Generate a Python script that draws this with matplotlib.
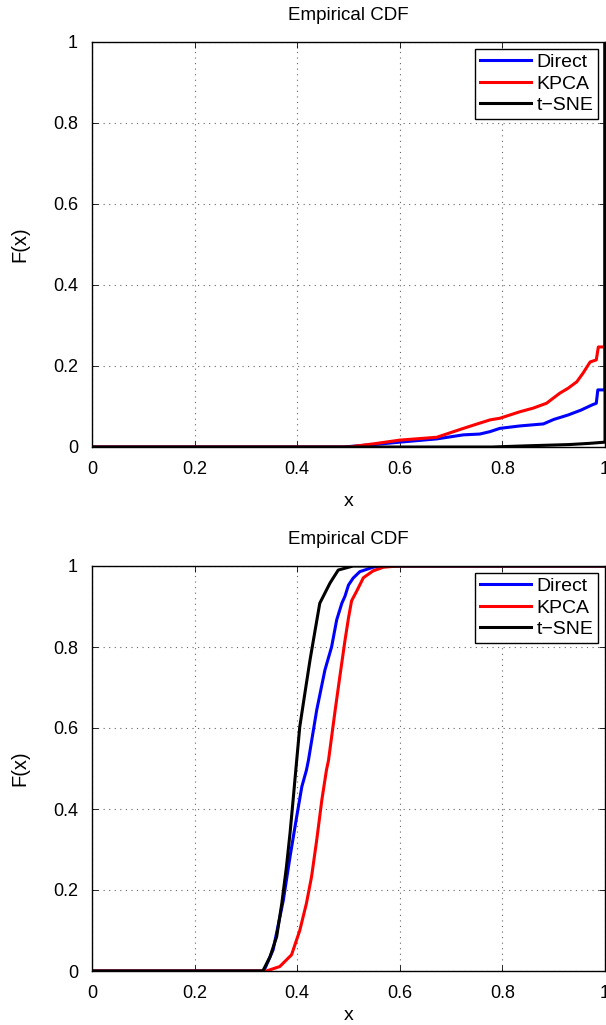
import numpy as np
import matplotlib.pyplot as plt

plt.rcParams['font.family'] = ['Liberation Sans', 'DejaVu Sans']

# top panel: values (x, F(x))
top_direct_x = [0.0, 0.49, 0.55, 0.60, 0.672, 0.724, 0.756, 0.776, 0.795, 0.834, 0.88, 0.90, 0.928, 0.953, 0.975, 0.983, 0.986, 1.0, 1.0]
top_direct_f = [0.0, 0.0, 0.006, 0.012, 0.020, 0.030, 0.032, 0.038, 0.046, 0.052, 0.057, 0.068, 0.079, 0.091, 0.104, 0.108, 0.141, 0.141, 1.0]
top_kpca_x = [0.0, 0.50, 0.55, 0.60, 0.672, 0.724, 0.756, 0.776, 0.795, 0.834, 0.86, 0.886, 0.912, 0.928, 0.945, 0.957, 0.971, 0.983, 0.987, 1.0, 1.0]
top_kpca_f = [0.0, 0.0, 0.008, 0.017, 0.024, 0.046, 0.059, 0.067, 0.071, 0.087, 0.096, 0.108, 0.133, 0.145, 0.161, 0.182, 0.21, 0.215, 0.247, 0.247, 1.0]
top_tsne_x = [0.0, 0.78, 0.85, 0.93, 0.97, 1.0, 1.0]
top_tsne_f = [0.0, 0.0, 0.003, 0.006, 0.009, 0.012, 1.0]

# bottom panel
bot_direct_x = [0.0, 0.335, 0.353, 0.373, 0.386, 0.399, 0.409, 0.418, 0.422, 0.438, 0.454, 0.467, 0.477, 0.487, 0.493, 0.50, 0.509, 0.522, 0.548, 0.56, 1.0]
bot_direct_f = [0.0, 0.0, 0.052, 0.175, 0.282, 0.381, 0.455, 0.496, 0.521, 0.644, 0.743, 0.80, 0.867, 0.908, 0.925, 0.953, 0.97, 0.986, 0.997, 1.0, 1.0]
bot_kpca_x = [0.0, 0.34, 0.366, 0.389, 0.405, 0.418, 0.428, 0.438, 0.448, 0.457, 0.461, 0.474, 0.483, 0.493, 0.50, 0.506, 0.516, 0.529, 0.548, 0.568, 0.596, 1.0]
bot_kpca_f = [0.0, 0.0, 0.011, 0.04, 0.10, 0.167, 0.233, 0.323, 0.422, 0.496, 0.52, 0.644, 0.726, 0.815, 0.872, 0.914, 0.938, 0.971, 0.988, 0.997, 1.0, 1.0]
bot_tsne_x = [0.0, 0.333, 0.347, 0.36, 0.37, 0.379, 0.386, 0.392, 0.399, 0.405, 0.415, 0.425, 0.435, 0.444, 0.464, 0.48, 0.509, 1.0]
bot_tsne_f = [0.0, 0.0, 0.035, 0.085, 0.167, 0.257, 0.34, 0.422, 0.52, 0.603, 0.686, 0.768, 0.842, 0.908, 0.958, 0.99, 1.0, 1.0]

ticks = [0, 0.2, 0.4, 0.6, 0.8, 1]
tick_labels = ['0', '0.2', '0.4', '0.6', '0.8', '1']
labels = ['Direct', 'KPCA', 't\u2212SNE']
colors = ['#0000ff', '#ff0000', '#000000']

fig = plt.figure(figsize=(6.06, 10.25), dpi=100)
ax1 = fig.add_axes([92 / 606, 1 - 447 / 1025, 513 / 606, 405 / 1025])
ax2 = fig.add_axes([92 / 606, 1 - 971 / 1025, 513 / 606, 405 / 1025])

panels = [
    (ax1, [(top_direct_x, top_direct_f), (top_kpca_x, top_kpca_f), (top_tsne_x, top_tsne_f)], 11),
    (ax2, [(bot_direct_x, bot_direct_f), (bot_kpca_x, bot_kpca_f), (bot_tsne_x, bot_tsne_f)], 4),
]

for ax, series, xpad in panels:
    for (xs, fs), lab, c in zip(series, labels, colors):
        ax.plot(xs, fs, color=c, lw=2.2, label=lab)
    ax.set_xlim(0, 1)
    ax.set_ylim(0, 1)
    ax.set_xticks(ticks)
    ax.set_xticklabels(tick_labels)
    ax.set_yticks(ticks)
    ax.set_yticklabels(tick_labels)
    ax.grid(True, color='#666666', linestyle=(0, (1, 4)), lw=0.8)
    ax.tick_params(direction='in', top=True, right=True, length=4, labelsize=13, pad=10, width=0.6)
    for sp in ax.spines.values():
        sp.set_linewidth(1.0)
    ax.set_title('Empirical CDF', fontsize=13.5, pad=16)
    ax.set_xlabel('x', fontsize=14, labelpad=xpad)
    ax.set_ylabel('F(x)', fontsize=14.5, labelpad=17)
    leg = ax.legend(loc='upper right', fontsize=14, handlelength=2.6, fancybox=False,
                    framealpha=1, edgecolor='k', borderpad=0.25, labelspacing=0.2,
                    handletextpad=0.3, borderaxespad=0.35)
    leg.get_frame().set_linewidth(1.0)

fig.savefig('out.png', dpi=100)
